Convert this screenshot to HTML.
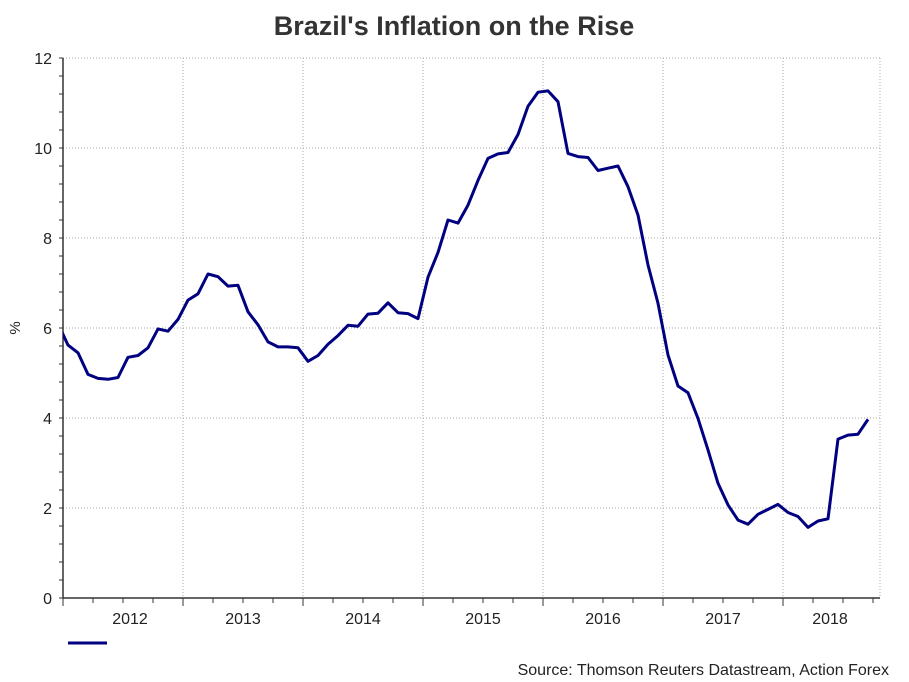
<!DOCTYPE html>
<html><head><meta charset="utf-8"><style>
body{margin:0;background:#fff;font-family:"Liberation Sans",sans-serif;}
svg{display:block}
</style></head><body>
<svg id="chart" width="909" height="682" viewBox="0 0 909 682">
<text x="454" y="35" text-anchor="middle" font-size="27" font-weight="bold" fill="#333">Brazil's Inflation on the Rise</text>
<g id="grid"></g>
<g id="axes"></g>
<clipPath id="clip"><rect x="63" y="50" width="820" height="550"/></clipPath>
<g clip-path="url(#clip)"><path id="line" fill="none" stroke="#000080" stroke-width="3" stroke-linejoin="round"/></g>
<line x1="68" y1="643" x2="107" y2="643" stroke="#000080" stroke-width="3"/>
<text x="889" y="675" text-anchor="end" font-size="16" fill="#222">Source: Thomson Reuters Datastream, Action Forex</text>
<text x="20" y="328" font-size="15" fill="#222" text-anchor="middle" transform="rotate(-90 20 328)">%</text>
</svg>
<script>
const startYear = 2011, startMonth = 11; // Dec 2011 (0-based month)
const values = [6.1,5.62,5.45,4.97,4.88,4.86,4.90,5.35,5.39,5.56,5.98,5.93,6.19,6.62,6.76,7.20,7.14,6.93,6.95,6.36,6.07,5.69,5.58,5.58,5.56,5.26,5.39,5.64,5.83,6.06,6.04,6.31,6.33,6.56,6.34,6.32,6.21,7.13,7.68,8.40,8.33,8.73,9.28,9.77,9.87,9.90,10.30,10.93,11.24,11.27,11.03,9.88,9.81,9.79,9.50,9.55,9.60,9.14,8.51,7.40,6.55,5.40,4.71,4.56,3.99,3.29,2.55,2.07,1.73,1.64,1.86,1.97,2.08,1.90,1.81,1.57,1.71,1.76,3.53,3.62,3.64,3.97];
const yTicks = [0,2,4,6,8,10,12];
const xYears = [2012,2013,2014,2015,2016,2017,2018];
const NS="http://www.w3.org/2000/svg";
const X0=63,X1=880,Y0=598,Y1=58;
function xT(t){return X0+(t-2012)*120;}
function yS(v){return Y0-(v/12)*(Y0-Y1);}
const grid=document.getElementById('grid'),axes=document.getElementById('axes');
function mk(tag,attrs,parent){const e=document.createElementNS(NS,tag);for(const k in attrs)e.setAttribute(k,attrs[k]);parent.appendChild(e);return e;}
yTicks.forEach(v=>{
  if(v>0){const g=mk('line',{x1:X0,x2:X1,y1:yS(v),y2:yS(v),stroke:'#aaa','stroke-dasharray':'1,2'},grid);
  
  }
  const t=mk('text',{x:52,y:yS(v)+6,'text-anchor':'end','font-size':16,fill:'#222'},axes);t.textContent=v;
  
  
});
for(let v=0;v<=12.001;v+=0.4){mk('line',{x1:X0-4,x2:X0,y1:yS(v),y2:yS(v),stroke:'#333'},axes);}
xYears.forEach(y=>{
  if(y>2012){const g=mk('line',{x1:xT(y),x2:xT(y),y1:Y1,y2:Y0,stroke:'#aaa','stroke-dasharray':'1,2'},grid);
  
  }
  const cx=Math.max(xT(y+0.5),130);
  const t=mk('text',{x:y==2012?130:(y==2018?830:xT(y+0.5)),y:624,'text-anchor':'middle','font-size':16,fill:'#222'},axes);t.textContent=y;
  
  
});
mk('line',{x1:X1,x2:X1,y1:Y1,y2:Y0,stroke:'#aaa','stroke-dasharray':'1,2'},grid);
mk('line',{x1:X0,x2:X1,y1:Y1,y2:Y1,stroke:'#aaa','stroke-dasharray':'1,2'},grid);
for(let t=2012;xT(t)<=X1+1;t+=0.25){mk('line',{x1:xT(t),x2:xT(t),y1:Y0,y2:Y0+(Math.abs(t-Math.round(t))<0.01?8:5),stroke:'#333'},axes);}
mk('line',{x1:X0,x2:X0,y1:Y1,y2:Y0,stroke:'#333','stroke-width':1.5},axes);
mk('line',{x1:X0,x2:X1,y1:Y0,y2:Y0,stroke:'#333','stroke-width':1.5},axes);
let d='';
values.forEach((v,i)=>{const t=startYear+(startMonth+i+0.5)/12;d+=(i?'L':'M')+xT(t).toFixed(1)+','+yS(v).toFixed(1);});
document.getElementById('line').setAttribute('d',d);
</script>
</body></html>
